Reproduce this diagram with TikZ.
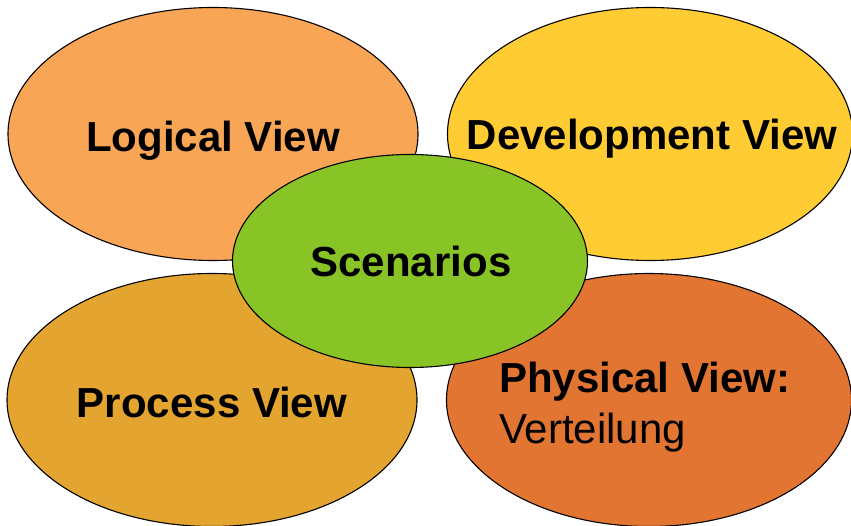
\documentclass[tikz,border=0pt]{standalone}
\usepackage{fontspec}
\setmainfont{Liberation Sans}
\usetikzlibrary{shapes.geometric}

\definecolor{logicalc}{RGB}{249,165,86}
\definecolor{develc}{RGB}{255,204,51}
\definecolor{processc}{RGB}{227,165,48}
\definecolor{physc}{RGB}{227,117,51}
\definecolor{scenc}{RGB}{137,196,39}

\begin{document}
\begin{tikzpicture}[x=1pt,y=-1pt, view/.style={ellipse,draw,line width=1.1pt,inner sep=0pt,minimum width=410pt,minimum height=253pt}, lbl/.style={anchor=base,inner sep=0pt,align=center,font=\fontsize{42}{51}\selectfont\bfseries}]
\useasboundingbox (0,0) rectangle (851,526);
\node[view,fill=logicalc] (logical) at (213,134) {};
\node[view,fill=develc,minimum width=405pt] (devel) at (650,134) {};
\node[view,fill=processc] (process) at (212,400) {};
\node[view,fill=physc,minimum width=405pt] (phys) at (649,400) {};
\node[view,fill=scenc,minimum width=355pt,minimum height=213pt] (scen) at (410,261) {};
% labels
\node[lbl] (logicalt) at (213,152) {Logical View};
\node[lbl] (develt) at (652,150) {Development View};
\node[lbl] (processt) at (212,417) {Process View};
\node[lbl] (scent) at (411,277) {Scenarios};
\node[lbl,anchor=base west,align=left] (physt) at (499,443) {Physical View:\\\mdseries Verteilung};
\end{tikzpicture}
\end{document}
